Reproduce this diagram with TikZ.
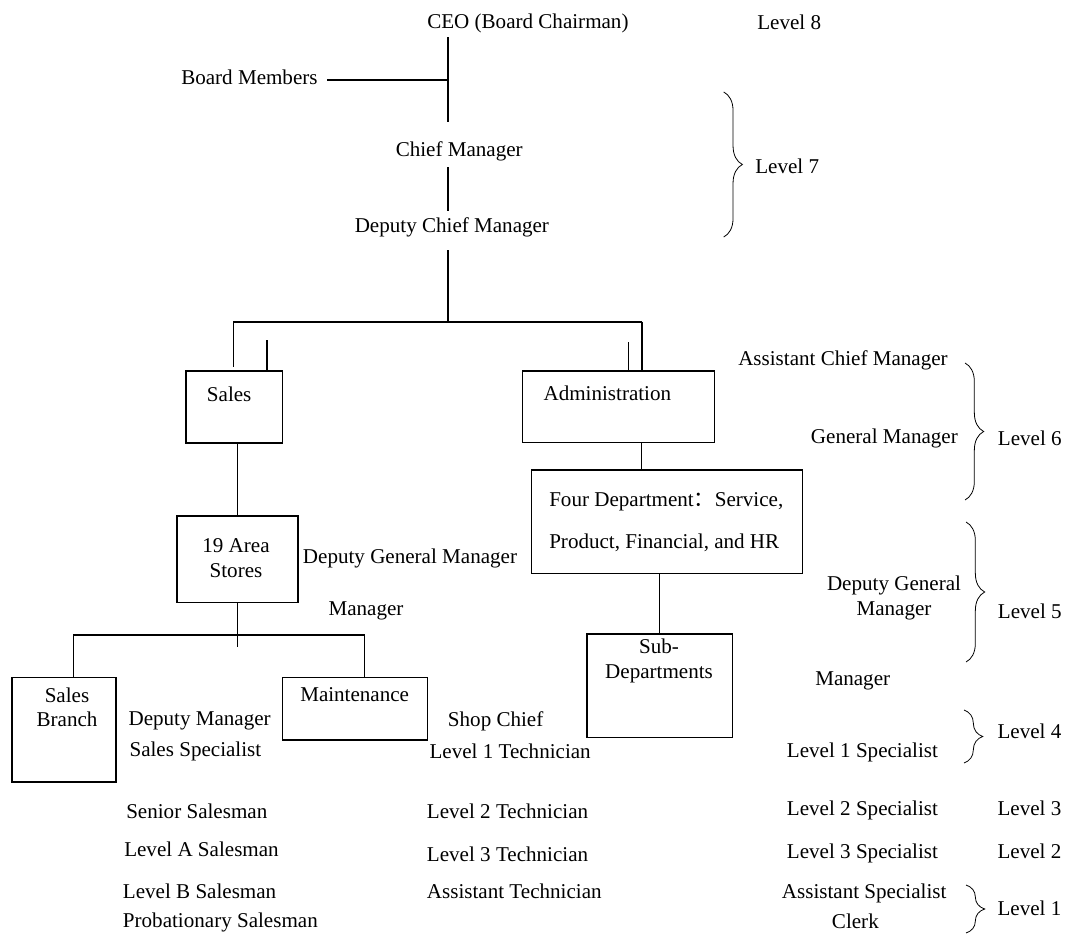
\documentclass[tikz,border=0pt]{standalone}
\usepackage{fontspec}
\setmainfont{Liberation Serif}
\newfontfamily\cjkfont{Noto Sans CJK SC}
\usetikzlibrary{decorations.pathreplacing}
\begin{document}
\begin{tikzpicture}[x=0.75pt,y=-0.75pt,font=\fontsize{15.8}{18.5}\selectfont]
        \tikzstyle{every node}=[inner sep=0pt, anchor=base west]
        \tikzstyle{box}=[draw, line width=1.2pt, anchor=north west]
        \tikzstyle{heavy}=[line width=1.5pt]
        \tikzstyle{light}=[line width=0.8pt]
        \tikzstyle{lvlbrace}=[decorate, decoration={brace, amplitude=14pt}, line width=0.6pt]
        \useasboundingbox (0,0) rectangle (1070,934);
        \node (ceo) at (427,29) {CEO (Board Chairman)};
        \node (board) at (181,85) {Board Members};
        \node (chief) at (395.5,157) {Chief Manager};
        \node (dcm) at (354.5,233) {Deputy Chief Manager};
        \node (lvl8) at (757,30) {Level 8};
        \node (lvl7) at (755,174) {Level 7};
        \coordinate (trunk) at (447.7,80);
        \coordinate (ldrop) at (233.3,321.7);
        \coordinate (rdrop) at (641.7,321.7);
        \node[box, minimum width=72.5pt, minimum height=54.2pt] (sales) at (185,370) {};
        \node[box, minimum width=143.9pt, minimum height=53.8pt] (admin) at (521.7,370) {};
        \node[box, minimum width=91pt, minimum height=65pt] (area) at (176,515) {};
        \node[box, minimum width=203.3pt, minimum height=77.8pt] (four) at (530.7,469) {};
        \node[box, minimum width=109.3pt, minimum height=77.8pt] (sub) at (586,633) {};
        \node[box, minimum width=78pt, minimum height=78.2pt] (branch) at (11,676.7) {};
        \node[box, minimum width=108.8pt, minimum height=46.7pt] (maint) at (281.7,676.7) {};
        \node (salestext) at (206.7,401.7) {Sales};
        \node (admintext) at (543.3,400) {Administration};
        \node[align=center, anchor=base] (areatext) at (236,577) {19 Area\\Stores};
        \node[align=left, font=\fontsize{15.8}{31.2}\selectfont] (fourtext) at (549,548.3) {Four Department{\cjkfont ：}Service,\\Product, Financial, and HR};
        \node[align=center, anchor=base] (subtext) at (659,678.3) {Sub-\\Departments};
        \node[align=center, anchor=base] (branchtext) at (67,726.7) {Sales\\Branch};
        \node (mainttext) at (300,701.7) {Maintenance};
        \node (dgm) at (302.7,563) {Deputy General Manager};
        \node (mgr) at (328.3,615) {Manager};
        \node (dmgr) at (128.3,725) {Deputy Manager};
        \node (salesspec) at (129.3,756.7) {Sales Specialist};
        \node (senior) at (126,818.3) {Senior Salesman};
        \node (levela) at (124,856) {Level A Salesman};
        \node (levelb) at (122.7,898.3) {Level B Salesman};
        \node (prob) at (122.7,927.3) {Probationary Salesman};
        \node (shop) at (447.7,726.7) {Shop Chief};
        \node (tech1) at (429.3,758.3) {Level 1 Technician};
        \node (tech2) at (426.7,818.3) {Level 2 Technician};
        \node (tech3) at (426.7,861.7) {Level 3 Technician};
        \node (techa) at (426.7,898.3) {Assistant Technician};
        \node (acm) at (738,365) {Assistant Chief Manager};
        \node (gm) at (810.7,443.3) {General Manager};
        \node[align=center, anchor=base] (rdgm) at (894,615) {Deputy General\\Manager};
        \node (rmgr) at (815,685) {Manager};
        \node (spec1) at (786.7,757.7) {Level 1 Specialist};
        \node (spec2) at (786.7,815) {Level 2 Specialist};
        \node (spec3) at (786.7,858.3) {Level 3 Specialist};
        \node (speca) at (781.7,898.3) {Assistant Specialist};
        \node (clerk) at (831.7,928) {Clerk};
        \node (lvl6) at (997.7,445) {Level 6};
        \node (lvl5) at (997.7,618) {Level 5};
        \node (lvl4) at (997.3,738.3) {Level 4};
        \node (lvl3) at (997.3,815) {Level 3};
        \node (lvl2) at (997.3,858.3) {Level 2};
        \node (lvl1) at (997.3,915) {Level 1};
        \draw[heavy] ([yshift=-2.5pt]ceo.south -| trunk) -- ([yshift=14.6pt]chief.north -| trunk);
        \draw[heavy] ([xshift=7pt]board.east |- trunk) -- (trunk);
        \draw[heavy] ([yshift=-4pt]chief.south -| trunk) -- ([yshift=4.8pt]dcm.north -| trunk);
        \draw[heavy] ([yshift=-9.3pt]dcm.south -| trunk) -- (ldrop -| trunk);
        \draw[heavy] (ldrop) -- (rdrop);
        \draw[light] (ldrop) -- ([yshift=2.5pt]ldrop |- sales.north);
        \draw[heavy] ([xshift=61.3pt]sales.north west) -- ++(0,-30);
        \draw[heavy] (rdrop) -- (rdrop |- admin.north);
        \draw[light] ([xshift=-9.75pt]rdrop |- admin.north) -- ++(0,-28.3);
        \draw[light] (area.north |- sales.south) -- (area.north);
        \draw[line width=1pt] (area.south) -- ++(0,44);
        \coordinate (lbar) at (73.3,635);
        \coordinate (rbar) at (364.3,635);
        \draw[light] (lbar |- branch.north) -- (lbar) -- (rbar) -- (rbar |- maint.north);
        \draw[light] (rdrop |- admin.south) -- (rdrop |- four.north);
        \draw[light] (sub.north |- four.south) -- (sub.north);
        \draw[lvlbrace] (723.7,92) -- (723.7,237);
        \draw[lvlbrace] (965,363) -- (965,500);
        \draw[lvlbrace] (966,522) -- (966,662);
        \draw[lvlbrace] (964,710) -- (964,763);
        \draw[lvlbrace] (966,885) -- (966,933);
    \end{tikzpicture}
\end{document}
